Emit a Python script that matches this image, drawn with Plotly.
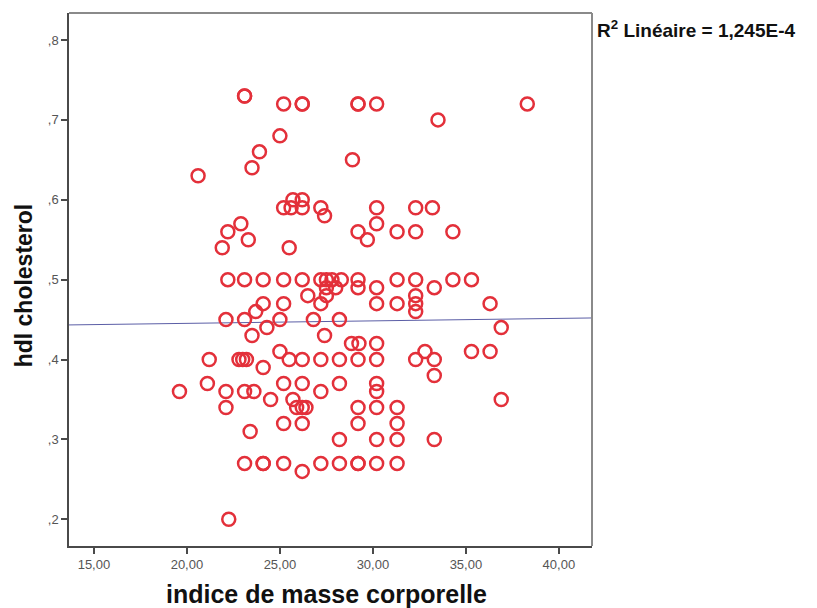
import plotly.graph_objects as go

# BMI (indice de masse corporelle) values
imc = [
    23.1, 23.1, 25.2, 26.2, 26.2, 29.2, 29.2, 30.2, 38.3, 33.5, 25.0, 23.9, 23.5, 20.6, 28.9,
    25.7, 26.2, 25.2, 25.6, 26.2, 27.2, 27.4, 30.2, 30.2, 22.9, 22.2, 23.3, 21.9, 25.5, 29.2, 29.7,
    32.3, 33.2, 31.3, 32.3, 34.3,
    22.2, 23.1, 24.1, 25.2, 26.2, 27.2, 27.5, 27.8, 28.3, 29.2, 31.3, 32.3, 34.3, 35.3,
    29.2, 30.2, 33.3, 26.5, 27.5, 28.0, 27.5, 32.3,
    27.2, 30.2, 24.1, 25.2, 31.3, 32.3, 36.3,
    23.7, 32.3,
    22.1, 23.1, 25.0, 26.8, 28.2,
    24.3, 36.9, 23.5, 27.4,
    28.85, 29.25, 30.2,
    32.8, 25.0, 35.3, 36.3,
    21.2, 22.8, 23.0, 23.2, 25.5, 26.2, 27.2, 28.2, 29.2, 30.2, 32.3, 33.3,
    24.1, 33.3,
    21.1, 25.2, 26.2, 28.2, 30.2,
    19.6, 22.1, 23.1, 23.6, 27.2, 30.2,
    24.5, 25.7, 36.9,
    22.1, 25.9, 26.2, 26.4, 29.2, 30.2, 31.3,
    25.2, 26.2, 29.2, 31.3,
    23.4,
    28.2, 30.2, 31.3, 33.3,
    23.1, 24.1, 24.1, 25.2, 27.2, 28.2, 29.2, 29.2, 30.2, 31.3,
    26.2,
    22.25,
]

# HDL cholesterol values
hdl = [
    0.73, 0.73, 0.72, 0.72, 0.72, 0.72, 0.72, 0.72, 0.72, 0.70, 0.68, 0.66, 0.64, 0.63, 0.65,
    0.60, 0.60, 0.59, 0.59, 0.59, 0.59, 0.58, 0.59, 0.57, 0.57, 0.56, 0.55, 0.54, 0.54, 0.56, 0.55,
    0.59, 0.59, 0.56, 0.56, 0.56,
    0.50, 0.50, 0.50, 0.50, 0.50, 0.50, 0.50, 0.50, 0.50, 0.50, 0.50, 0.50, 0.50, 0.50,
    0.49, 0.49, 0.49, 0.48, 0.49, 0.49, 0.48, 0.48,
    0.47, 0.47, 0.47, 0.47, 0.47, 0.47, 0.47,
    0.46, 0.46,
    0.45, 0.45, 0.45, 0.45, 0.45,
    0.44, 0.44, 0.43, 0.43,
    0.42, 0.42, 0.42,
    0.41, 0.41, 0.41, 0.41,
    0.40, 0.40, 0.40, 0.40, 0.40, 0.40, 0.40, 0.40, 0.40, 0.40, 0.40, 0.40,
    0.39, 0.38,
    0.37, 0.37, 0.37, 0.37, 0.37,
    0.36, 0.36, 0.36, 0.36, 0.36, 0.36,
    0.35, 0.35, 0.35,
    0.34, 0.34, 0.34, 0.34, 0.34, 0.34, 0.34,
    0.32, 0.32, 0.32, 0.32,
    0.31,
    0.30, 0.30, 0.30, 0.30,
    0.27, 0.27, 0.27, 0.27, 0.27, 0.27, 0.27, 0.27, 0.27, 0.27,
    0.26,
    0.20,
]

# Linear fit
fit_intercept = 0.4391
fit_slope = 0.00031
x_range = [13.66, 41.78]
y_range = [0.1666, 0.8338]

x_tickvals = [15, 20, 25, 30, 35, 40]
x_ticktext = ["15,00", "20,00", "25,00", "30,00", "35,00", "40,00"]
y_tickvals = [0.2, 0.3, 0.4, 0.5, 0.6, 0.7, 0.8]
y_ticktext = [",2", ",3", ",4", ",5", ",6", ",7", ",8"]

r2_text = "R<sup>2</sup> Linéaire = 1,245E-4"
x_title = "indice de masse corporelle"
y_title = "hdl cholesterol"

fit_x = x_range
fit_y = [fit_intercept + fit_slope * v for v in fit_x]

fig = go.Figure()
fig.add_trace(go.Scatter(
    x=fit_x, y=fit_y, mode="lines",
    line=dict(color="#5b5ea6", width=1),
    hoverinfo="skip", showlegend=False,
))
fig.add_trace(go.Scatter(
    x=imc, y=hdl, mode="markers",
    marker=dict(symbol="circle-open", size=13, color="#e3303a",
                line=dict(width=2.5, color="#e3303a")),
    showlegend=False,
))

font_family = "Liberation Sans, Arial, sans-serif"

fig.update_layout(
    width=809, height=600,
    margin=dict(l=61, r=225, t=5, b=62),
    paper_bgcolor="white", plot_bgcolor="white",
    font=dict(family=font_family),
    xaxis=dict(
        range=x_range, tickvals=x_tickvals, ticktext=x_ticktext,
        showgrid=False, zeroline=False, showline=True, linecolor="#4a4a4a", linewidth=1.5,
        ticks="outside", ticklen=6, tickcolor="#4a4a4a", tickwidth=1.5,
        tickfont=dict(size=13, color="#555555", family=font_family),
    ),
    yaxis=dict(
        range=y_range, tickvals=y_tickvals, ticktext=y_ticktext,
        showgrid=False, zeroline=False, showline=True, linecolor="#4a4a4a", linewidth=1.5,
        ticks="outside", ticklen=6, tickcolor="#4a4a4a", tickwidth=1.5,
        tickfont=dict(size=13, color="#555555", family=font_family),
    ),
    shapes=[
        dict(type="line", xref="paper", yref="paper", x0=0, x1=1, y0=1, y1=1,
             line=dict(color="#8a8a8a", width=2)),
        dict(type="line", xref="paper", yref="paper", x0=1, x1=1, y0=0, y1=1,
             line=dict(color="#8a8a8a", width=2)),
    ],
    annotations=[
        dict(text=y_title, xref="paper", yref="paper", x=-0.087, y=0.49,
             textangle=-90, showarrow=False, xanchor="center", yanchor="middle",
             font=dict(size=23, color="#111111", family=font_family, weight="bold")),
        dict(text=x_title, xref="paper", yref="paper", x=0.492, y=-0.09,
             showarrow=False, xanchor="center", yanchor="middle",
             font=dict(size=25, color="#111111", family=font_family, weight="bold")),
        dict(text=r2_text, xref="paper", yref="paper", x=1.006, y=0.97,
             showarrow=False, xanchor="left", yanchor="middle",
             font=dict(size=19, color="#111111", family=font_family, weight="bold")),
    ],
)

fig.write_html("out.html")
